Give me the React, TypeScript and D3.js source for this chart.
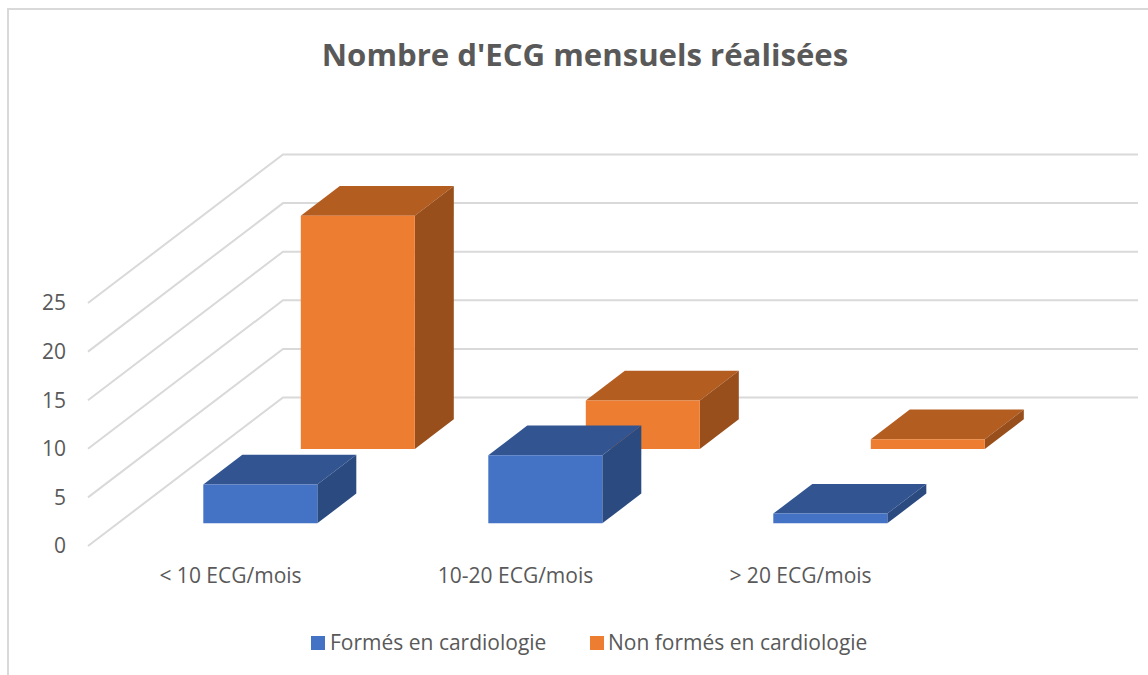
import React from "react";
import * as d3 from "d3";

const categories = ["< 10 ECG/mois", "10-20 ECG/mois", "> 20 ECG/mois"];
const seriesNames = ["Formés en cardiologie", "Non formés en cardiologie"];
const formes = [4, 7, 1];
const nonFormes = [24, 5, 1];
const yTicks = [0, 5, 10, 15, 20, 25];
const seriesValues = [formes, nonFormes];
const faceColors = [
  { front: "#4472C4", top: "#325592", side: "#2A4A80" },
  { front: "#ED7D31", top: "#B45D21", side: "#984F1B" },
];

const FONT = "'Open Sans', 'Noto Sans', sans-serif";
const TEXT = "#595959";
const GRID = "#D9D9D9";

const x = d3.scaleBand<string>().domain(categories).range([88, 943]);
const depth = d3.scaleLinear().domain([0, 1]).range([0, 195]);
const depthY = d3.scaleLinear().domain([0, 1]).range([0, -148.5]);
const y = d3.scaleLinear().domain([0, 25]).range([546, 303]);
const rows = d3.scaleBand<number>().domain([0, 1]).range([0, 1]);

const BAR_FRAC = 0.4;
const DEPTH_FRAC = 0.4;

function project(px: number, value: number, t: number): [number, number] {
  return [px + depth(t), y(value) + depthY(t)];
}
const poly = (pts: [number, number][]) => pts.map((p) => p.map((n) => n.toFixed(1)).join(",")).join(" ");

function Bar({ cat, value, row }: { cat: string; value: number; row: number }) {
  const step = x.bandwidth();
  const x0 = (x(cat) as number) + (step * (1 - BAR_FRAC)) / 2;
  const x1 = x0 + step * BAR_FRAC;
  const rw = rows.bandwidth();
  const t0 = (rows(row) as number) + (rw * (1 - DEPTH_FRAC)) / 2 + 0.003;
  const t1 = t0 + rw * DEPTH_FRAC;
  const c = faceColors[row];
  return (
    <g>
      <polygon points={poly([project(x0, value, t0), project(x1, value, t0), project(x1, value, t1), project(x0, value, t1)])} fill={c.top} />
      <polygon points={poly([project(x1, 0, t0), project(x1, 0, t1), project(x1, value, t1), project(x1, value, t0)])} fill={c.side} />
      <polygon points={poly([project(x0, 0, t0), project(x1, 0, t0), project(x1, value, t0), project(x0, value, t0)])} fill={c.front} />
    </g>
  );
}

export default function App() {
  const x0 = x.range()[0];
  const x1 = x.range()[1];
  const legend = [
    { sq: 311, tx: 330 },
    { sq: 590, tx: 608 },
  ];
  return (
    <svg width={1148} height={675} style={{ position: "absolute", left: 0, top: 0, background: "#fff" }} fontFamily={FONT}>
      <path d="M1148,9 H8 V675" fill="none" stroke={GRID} strokeWidth={2} />
      <text x={585} y={66} textAnchor="middle" fontSize={31.15} fontWeight={700} fill={TEXT}>
        Nombre d'ECG mensuels réalisées
      </text>
      {yTicks.map((t) => {
        const a = project(x0, t, 0);
        const b = project(x0, t, 1);
        const c = project(x1, t, 1);
        return (
          <g key={t}>
            <polyline points={poly([a, b, c])} fill="none" stroke={GRID} strokeWidth={2} />
            <text x={66} y={y(t)} dy="0.35em" textAnchor="end" fontSize={21} fill={TEXT}>
              {t}
            </text>
          </g>
        );
      })}
      {[1, 0].map((row) =>
        categories.map((cat, i) => <Bar key={`${row}-${cat}`} cat={cat} value={seriesValues[row][i]} row={row} />)
      )}
      {categories.map((cat) => (
        <text key={cat} x={(x(cat) as number) + x.bandwidth() / 2} y={583} textAnchor="middle" fontSize={21} fill={TEXT}>
          {cat}
        </text>
      ))}
      {seriesNames.map((name, i) => (
        <g key={name}>
          <rect x={legend[i].sq} y={636} width={14} height={14} fill={faceColors[i].front} />
          <text x={legend[i].tx} y={650} fontSize={21} fill={TEXT}>
            {name}
          </text>
        </g>
      ))}
    </svg>
  );
}
